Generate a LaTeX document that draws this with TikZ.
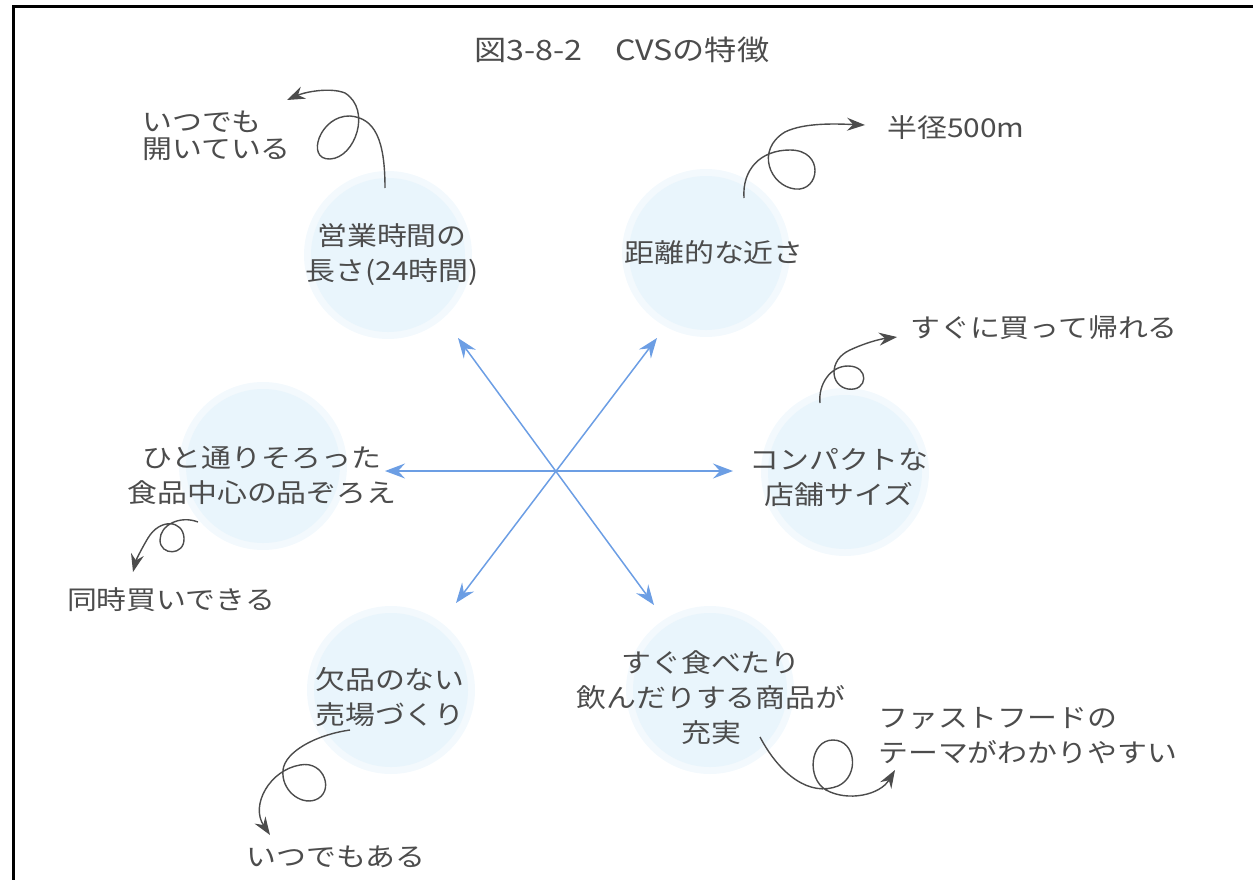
\documentclass[tikz,border=0pt]{standalone}
\usepackage{fontspec}
\setmainfont{Noto Sans CJK JP}[FakeStretch=1.15]
\usepackage{xcolor}
\usepackage{tikz}
\usetikzlibrary{arrows.meta}
\usetikzlibrary{positioning}

\definecolor{inkgray}{RGB}{76,76,76}
\definecolor{spokeblue}{RGB}{108,158,228}
\definecolor{blobblue}{RGB}{233,245,252}

\tikzset{
  txt/.style={text=inkgray, inner sep=0pt, font=\fontsize{26}{35}\selectfont, align=center},
  spoke/.style={draw=spokeblue, line width=1.5pt,
    {Stealth[length=20pt,width=15pt,inset=7pt]}-{Stealth[length=20pt,width=15pt,inset=7pt]}},
  curl/.style={draw=inkgray, line width=1.4pt, -{Stealth[length=18pt,width=13pt,inset=6pt]}},
}

\begin{document}
\begin{tikzpicture}[x=1pt,y=-1pt]
\useasboundingbox (0,0) rectangle (1253,880);
\draw[line width=3pt] (13,880) -- (13,7) -- (1253,7);

% blobs
\foreach \bx/\by in {388/255, 706/253, 263/466, 845/472, 391/690, 710/690} {
  \fill[blobblue!55] (\bx,\by) circle (84pt);
  \fill[blobblue] (\bx,\by) circle (77pt);
}

\node[txt, font=\fontsize{28}{35}\selectfont] (title) at (622,50) {図3-8-2　CVSの特徴};

\node[txt] (hours) at (392,255) {営業時間の\\長さ(24時間)};
\node[txt] (dist) at (714,253) {距離的な近さ};
\node[txt] (compact) at (839,478) {コンパクトな\\店舗サイズ};
\node[txt] (range) at (262,475) {ひと通りそろった\\食品中心の品ぞろえ};
\node[txt] (stock) at (390,697) {欠品のない\\売場づくり};
\node[txt] (food) at (711,698) {すぐ食べたり\\飲んだりする商品が\\充実};

\node[txt, align=left, anchor=west, font=\fontsize{26}{27}\selectfont] (open) at (142,136) {いつでも\\開いている};
\node[txt, anchor=west] (radius) at (887,128) {半径500m};
\node[txt, anchor=west] (takeout) at (910,328) {すぐに買って帰れる};
\node[txt] (bundle) at (171,600) {同時買いできる};
\node[txt] (always) at (336,857) {いつでもある};
\node[txt, align=left, anchor=west] (fast) at (878,736) {ファストフードの\\テーマがわかりやすい};

% spokes
\coordinate (ul) at (458,338);
\coordinate (dr) at (654,605);
\coordinate (ur) at (657,338);
\coordinate (dl) at (456,603);
\coordinate (l) at (385,471);
\coordinate (r) at (733,471);
\draw[spoke] (ul) -- (dr);
\draw[spoke] (ur) -- (dl);
\draw[spoke] (l) -- (r);

% curls
\coordinate (c1a) at (385,188);
\coordinate (c1b) at (287,100);
\coordinate (c2a) at (744,198);
\coordinate (c2b) at (865,125);
\coordinate (c3a) at (820,403);
\coordinate (c3b) at (897,337);
\coordinate (c4a) at (760,737);
\coordinate (c4b) at (895,770);
\coordinate (c5a) at (198,522);
\coordinate (c5b) at (133,572);
\coordinate (c6a) at (350,730);
\coordinate (c6b) at (270,835);
\draw[curl] (c1a) .. controls (385,140) and (375,118) .. (350,116) .. controls (320,115) and (305,160) .. (330,159)
  .. controls (355,158) and (372,110) .. (345,93) .. controls (330,87) and (305,92) .. (c1b);
\draw[curl] (c2a) .. controls (742,170) and (760,150) .. (790,150) .. controls (825,150) and (820,192) .. (795,189)
  .. controls (770,186) and (755,150) .. (785,132) .. controls (805,122) and (840,124) .. (c2b);
\draw[curl] (c3a) .. controls (818,385) and (830,366) .. (848,366) .. controls (870,366) and (868,392) .. (848,389)
  .. controls (830,386) and (828,360) .. (850,350) .. controls (865,343) and (880,339) .. (c3b);
\draw[curl] (c4a) .. controls (780,775) and (810,797) .. (838,786) .. controls (860,776) and (856,740) .. (833,740)
  .. controls (810,740) and (806,778) .. (826,790) .. controls (848,802) and (880,795) .. (c4b);
\draw[curl] (c5a) .. controls (180,515) and (160,525) .. (160,540) .. controls (160,556) and (185,556) .. (184,538)
  .. controls (183,520) and (160,518) .. (148,538) .. controls (142,548) and (136,560) .. (c5b);
\draw[curl] (c6a) .. controls (315,735) and (285,752) .. (283,770) .. controls (281,790) and (300,805) .. (315,800)
  .. controls (335,793) and (325,760) .. (300,765) .. controls (270,770) and (250,805) .. (c6b);
\end{tikzpicture}
\end{document}
